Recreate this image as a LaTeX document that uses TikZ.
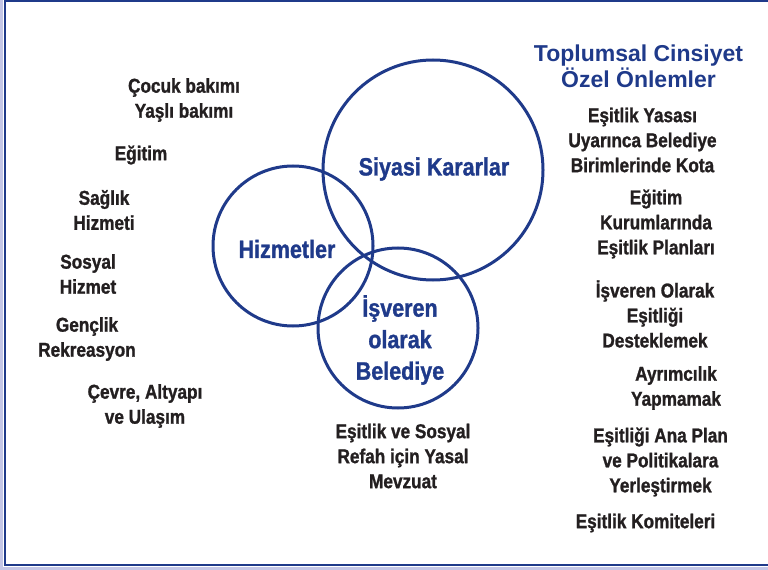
\documentclass[tikz,border=0pt]{standalone}
\usepackage{fontspec}
\newfontfamily\condf{Liberation Sans}[FakeStretch=0.86, BoldFeatures={FakeBold=1.2}]
\newfontfamily\titlef{Liberation Sans}
\definecolor{cblue}{RGB}{31,58,138}
\definecolor{ctext}{RGB}{35,31,32}
\definecolor{lav}{RGB}{196,198,230}
\tikzset{
  ring/.style={circle, draw=cblue, line width=3bp, inner sep=0pt},
  item/.style={align=center, inner sep=0pt, text=ctext, font=\condf\bfseries\fontsize{20bp}{25bp}\selectfont},
  clabel/.style={align=center, inner sep=0pt, text=cblue, font=\condf\bfseries\fontsize{25bp}{31.5bp}\selectfont},
  ttl/.style={align=center, inner sep=0pt, text=cblue, font=\titlef\bfseries\fontsize{23bp}{26bp}\selectfont}
}
\begin{document}
\begin{tikzpicture}[x=1bp,y=-1bp]
\useasboundingbox (0,0) rectangle (768,570);
% frame
\fill[lav] (0,0) rectangle (3,570);
\fill[lav] (0,567) rectangle (768,570);
\draw[cblue, line width=2.2bp] (768,1.2) -- (4.6,1.2) -- (4.6,565) -- (768,565);
% circles
\node[ring, minimum size=220bp] (siyasi) at (433,170) {};
\node[ring, minimum size=160bp] (hizmet) at (293,246) {};
\node[ring, minimum size=160bp] (isveren) at (398,328) {};
% circle labels
\node[clabel] (lsiyasi) at (434,169) {Siyasi Kararlar};
\node[clabel] (lhizmet) at (287,249) {Hizmetler};
\node[clabel] (lisveren) at (400,340) {İşveren\\olarak\\Belediye};
% title
\node[ttl] (title) at (638.5,66) {Toplumsal Cinsiyet\\Özel Önlemler};
% left column
\node[item] (l1) at (184,100) {Çocuk bakımı\\Yaşlı bakımı};
\node[item] (l2) at (141,155) {Eğitim};
\node[item] (l3) at (104,210) {Sağlık\\Hizmeti};
\node[item] (l4) at (88,274) {Sosyal\\Hizmet};
\node[item] (l5) at (87,339) {Gençlik\\Rekreasyon};
\node[item] (l6) at (145,406) {Çevre, Altyapı\\ve Ulaşım};
% right column
\node[item] (r1) at (642.5,140) {Eşitlik Yasası\\Uyarınca Belediye\\Birimlerinde Kota};
\node[item] (r2) at (656,224) {Eğitim\\Kurumlarında\\Eşitlik Planları};
\node[item] (r3) at (655,314) {İşveren Olarak\\Eşitliği\\Desteklemek};
\node[item] (r4) at (676,388) {Ayrımcılık\\Yapmamak};
\node[item] (r5) at (660.5,462) {Eşitliği Ana Plan\\ve Politikalara\\Yerleştirmek};
\node[item] (r6) at (645.5,523) {Eşitlik Komiteleri};
% bottom
\node[item] (b1) at (403,456) {Eşitlik ve Sosyal\\Refah için Yasal\\Mevzuat};
\end{tikzpicture}
\end{document}
